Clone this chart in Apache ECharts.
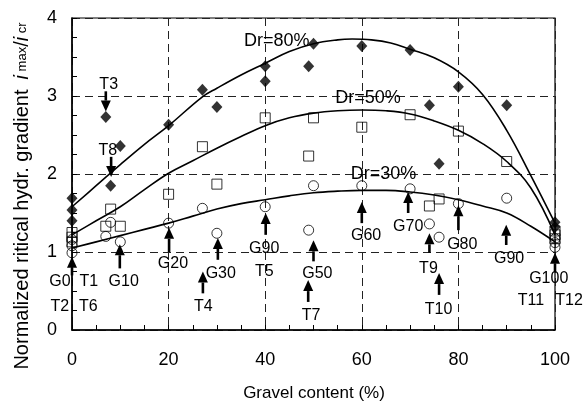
<!DOCTYPE html>
<html><head><meta charset="utf-8">
<script src="https://cdn.jsdelivr.net/npm/echarts@6/dist/echarts.min.js"></script>
<style>html,body{margin:0;padding:0;background:#fff}#c{width:588px;height:405px}</style>
</head><body><div id="c"></div>
<script>
// ---- measured points ----
const dr80X = [0,0,0,7,8,10,20,27,30,40,40,49,50,60,70,74,76,80,90,100,100];
const dr80Y = [1.69,1.54,1.40,2.73,1.85,2.36,2.63,3.08,2.86,3.38,3.19,3.38,3.67,3.64,3.59,2.88,2.13,3.12,2.88,1.38,1.32];
const dr50X = [0,0,0,7,8,10,20,27,30,40,49,50,60,70,74,76,80,90,100,100,100];
const dr50Y = [1.25,1.19,1.13,1.33,1.55,1.33,1.74,2.35,1.87,2.72,2.23,2.72,2.60,2.76,1.59,1.68,2.55,2.16,1.27,1.22,1.17];
const dr30X = [0,0,0,7,8,10,20,27,30,40,49,50,60,70,74,76,80,90,100,100,100];
const dr30Y = [1.16,1.08,0.99,1.20,1.38,1.13,1.37,1.56,1.24,1.58,1.28,1.85,1.85,1.81,1.36,1.19,1.62,1.69,1.17,1.12,1.06];
// ---- fitted curves ----
const fit80X = [0,5,10,15,20,27,30,35,40,45,50,55,58,62,66,70,75,80,85,90,95,100];
const fit80Y = [1.58,1.85,2.12,2.38,2.62,2.99,3.10,3.27,3.42,3.57,3.67,3.72,3.73,3.72,3.68,3.60,3.49,3.31,3.02,2.56,1.98,1.37];
const fit50X = [0,5,10,15,20,25,30,35,40,45,50,55,60,65,70,75,80,85,90,95,100];
const fit50Y = [1.22,1.40,1.58,1.80,2.01,2.17,2.33,2.48,2.62,2.72,2.78,2.81,2.82,2.81,2.77,2.68,2.56,2.39,2.16,1.82,1.22];
const fit30X = [0,5,10,15,20,25,30,35,40,45,50,55,60,65,70,75,80,85,90,95,100];
const fit30Y = [1.05,1.13,1.21,1.29,1.37,1.46,1.55,1.62,1.67,1.72,1.76,1.78,1.79,1.79,1.77,1.73,1.67,1.59,1.50,1.33,1.13];
// ---- annotation arrows ----
const arrowX    = [0,   9.9, 20.1, 27.1, 30.2, 40.1, 50,   48.9, 60,   69.6, 74,   76,   80,   89.9, 100,  7,    8.1];
const arrowTail = [0.70,0.79,1.00, 0.47, 0.90, 1.22, 0.88, 0.36, 1.37, 1.50, 0.99, 0.45, 1.28, 1.09, 0.74, 3.06, 2.22];
const arrowTip  = [0.94,1.10,1.31, 0.75, 1.18, 1.50, 1.15, 0.64, 1.64, 1.77, 1.24, 0.73, 1.60, 1.35, 0.99, 2.80, 1.96];
// ---- annotation labels ----
const labelText = ['G0','T1','T2','T6','G10','G20','T4','G30','G90','T5','G50','T7','G60','G70','T9','T10','G80','G90','G100','T11','T12','T3','T8'];
const labelX    = [-2.5,3.5,-2.5,3.4,10.7,20.9,27.2,30.8,39.8,39.8,50.8,49.5,60.9,69.6,73.8,75.9,80.8,90.5,98.7,95.0,102.9,7.6,7.4];
const labelY    = [0.62,0.62,0.30,0.30,0.62,0.85,0.30,0.72,1.04,0.75,0.72,0.19,1.21,1.32,0.79,0.26,1.09,0.91,0.66,0.38,0.38,3.14,2.30];
const curveText = ['Dr=80%','Dr=50%','Dr=30%'];
const curveTX   = [42.4, 61.3, 64.5];
const curveTY   = [3.71, 2.98, 2.00];

const FONT = '"Liberation Sans", Arial, sans-serif';
const zip = (a,b) => a.map((v,i)=>[v,b[i]]);

const chart = echarts.init(document.getElementById('c'), null, {renderer:'canvas'});

function renderArrow(params, api){
  const x = api.value(0), y1 = api.value(1), y2 = api.value(2);
  const p1 = api.coord([x,y1]), p2 = api.coord([x,y2]);
  const dir = p2[1] > p1[1] ? 1 : -1;
  const head = 11, hw = 5;
  const by = p2[1] - dir*head;
  return {type:'group', children:[
    {type:'line', shape:{x1:p1[0],y1:p1[1],x2:p2[0],y2:by}, style:{stroke:'#000', lineWidth:2.6}},
    {type:'polygon', shape:{points:[[p2[0],p2[1]],[p2[0]-hw,by],[p2[0]+hw,by]]}, style:{fill:'#000'}}
  ]};
}
function makeTextRenderer(texts, size){
  return function(params, api){
    const p = api.coord([api.value(0), api.value(1)]);
    return {type:'text', x:p[0], y:p[1], style:{text:texts[params.dataIndex], fontSize:size, fontFamily:FONT, fill:'#000', align:'center', verticalAlign:'middle'}};
  };
}

const lineStyleFit = {color:'#000', width:1.6};
const option = {
  animation:false,
  grid:{left:72, right:33, top:18, bottom:75, show:true, borderColor:'#000', borderWidth:1.2},
  xAxis:{type:'value', min:0, max:100, interval:20,
    axisLine:{lineStyle:{color:'#000', width:1.5}},
    axisTick:{inside:true, length:5, lineStyle:{color:'#000'}},
    minorTick:{show:true, splitNumber:4, length:5, lineStyle:{color:'#000'}},
    axisLabel:{color:'#000', fontSize:18, fontFamily:FONT, margin:21},
    splitLine:{show:true, lineStyle:{color:'#222', type:[8,5], width:1}}
  },
  yAxis:{type:'value', min:0, max:4, interval:1,
    axisLine:{lineStyle:{color:'#000', width:1.5}},
    axisTick:{inside:true, length:5, lineStyle:{color:'#000'}},
    minorTick:{show:true, splitNumber:4, length:5, lineStyle:{color:'#000'}},
    axisLabel:{color:'#000', fontSize:18, fontFamily:FONT, margin:15},
    splitLine:{show:true, lineStyle:{color:'#222', type:[8,5], width:1}}
  },
  graphic:[
    {type:'text', x:314, y:393, style:{text:'Gravel content (%)', fontSize:17, fontFamily:FONT, fill:'#000', align:'center', verticalAlign:'middle'}},
    {type:'text', x:22, y:196, rotation:Math.PI/2, style:{
      text:'{n|Normalized ritical hydr. gradient}   {i|i}{s| max}{n|/}{i|i}{s| cr}',
      align:'center', verticalAlign:'middle', fill:'#000',
      rich:{
        n:{fontSize:20, fontFamily:FONT, fill:'#000'},
        i:{fontSize:20, fontFamily:FONT, fontStyle:'italic', fill:'#000'},
        s:{fontSize:13, fontFamily:FONT, fill:'#000'}
      }}}
  ],
  series:[
    {type:'line', data:zip(fit80X,fit80Y), smooth:0.4, symbol:'none', lineStyle:lineStyleFit, clip:false, silent:true, z:2},
    {type:'line', data:zip(fit50X,fit50Y), smooth:0.4, symbol:'none', lineStyle:lineStyleFit, clip:false, silent:true, z:2},
    {type:'line', data:zip(fit30X,fit30Y), smooth:0.4, symbol:'none', lineStyle:lineStyleFit, clip:false, silent:true, z:2},
    {type:'scatter', data:zip(dr80X,dr80Y), symbol:'diamond', symbolSize:[11,12], itemStyle:{color:'#000'}, clip:false, silent:true, z:4},
    {type:'scatter', data:zip(dr50X,dr50Y), symbol:'rect', symbolSize:10, itemStyle:{color:'rgba(255,255,255,0)', borderColor:'#000', borderWidth:1}, clip:false, silent:true, z:4},
    {type:'scatter', data:zip(dr30X,dr30Y), symbol:'circle', symbolSize:10, itemStyle:{color:'rgba(255,255,255,0)', borderColor:'#000', borderWidth:1}, clip:false, silent:true, z:4},
    {type:'custom', renderItem:renderArrow, data:arrowX.map((x,i)=>[x,arrowTail[i],arrowTip[i]]), encode:{x:0,y:[1,2]}, clip:false, silent:true, z:5},
    {type:'custom', renderItem:makeTextRenderer(labelText,16), data:zip(labelX,labelY), encode:{x:0,y:1}, clip:false, silent:true, z:6},
    {type:'custom', renderItem:makeTextRenderer(curveText,18), data:zip(curveTX,curveTY), encode:{x:0,y:1}, clip:false, silent:true, z:6}
  ]
};
chart.setOption(option);
</script>
</body></html>
